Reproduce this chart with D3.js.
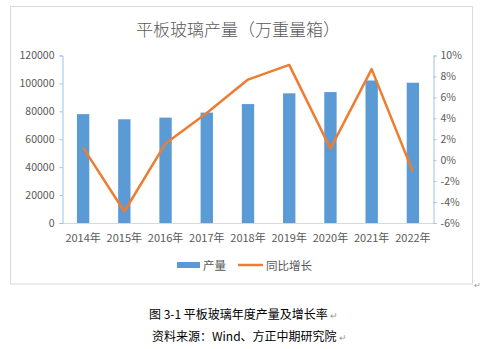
<!DOCTYPE html>
<html>
<head>
<meta charset="utf-8">
<script src="https://cdn.jsdelivr.net/npm/d3@7"></script>
<style>
  html, body { margin: 0; padding: 0; background: #fff; }
  svg { display: block; }
</style>
</head>
<body>
<svg id="chart" width="480" height="349"></svg>
<script>
// Flat glass output (10k weight boxes) and year-on-year growth
const years = ["2014年", "2015年", "2016年", "2017年", "2018年", "2019年", "2020年", "2021年", "2022年"];
const output = [78000, 74300, 75500, 79100, 85200, 92900, 93800, 102100, 100500];
const growth = [1.2, -4.9, 1.6, 4.5, 7.7, 9.1, 1.1, 8.7, -1.1];
const leftTicks = [0, 20000, 40000, 60000, 80000, 100000, 120000];
const rightTicks = [-6, -4, -2, 0, 2, 4, 6, 8, 10];

const svg = d3.select("#chart");
const font = "'Noto Sans CJK SC', 'Noto Sans', sans-serif";
const grey = "#595959";

// chart frame
svg.append("rect")
  .attr("x", 10.5).attr("y", 6.5).attr("width", 462).attr("height", 277.5)
  .attr("fill", "#fff").attr("stroke", "#d9d9d9").attr("stroke-width", 1);

// title
svg.append("text")
  .attr("x", 238).attr("y", 36)
  .attr("text-anchor", "middle")
  .attr("font-family", font).attr("font-size", 17).attr("font-weight", 300)
  .attr("fill", grey)
  .text("平板玻璃产量（万重量箱）");

const plot = { left: 62.5, right: 433.5, top: 55.5, bottom: 223 };

const x = d3.scaleBand().domain(years).range([plot.left, plot.right]).paddingInner(0.7).paddingOuter(0.35);
const xc = d => x(d) + x.bandwidth() / 2;
const yL = d3.scaleLinear().domain([0, 120000]).range([plot.bottom, plot.top]);
const yR = d3.scaleLinear().domain([-6, 10]).range([plot.bottom, plot.top]);

// bars
svg.append("g").selectAll("rect").data(years).join("rect")
  .attr("x", d => x(d))
  .attr("y", (d, i) => yL(output[i]))
  .attr("width", x.bandwidth())
  .attr("height", (d, i) => plot.bottom - yL(output[i]))
  .attr("fill", "#5b9bd5");

// baseline
svg.append("line")
  .attr("x1", plot.left).attr("x2", plot.right)
  .attr("y1", plot.bottom + 0.5).attr("y2", plot.bottom + 0.5)
  .attr("stroke", "#d9d9d9").attr("stroke-width", 1);

// left axis
const axL = svg.append("g").attr("transform", `translate(${plot.left},0)`)
  .call(d3.axisLeft(yL).tickValues(leftTicks).tickSize(3).tickPadding(5).tickFormat(d3.format("d")));
axL.select(".domain").attr("stroke", "#9dc3e6");
axL.selectAll(".tick line").attr("stroke", "#9dc3e6");
axL.selectAll("text").attr("font-family", font).attr("font-size", 10.5).attr("fill", grey);

// right axis
const axR = svg.append("g").attr("transform", `translate(${plot.right},0)`)
  .call(d3.axisRight(yR).tickValues(rightTicks).tickSize(3).tickPadding(4).tickFormat(d => d + "%"));
axR.select(".domain").attr("stroke", "#9dc3e6");
axR.selectAll(".tick line").attr("stroke", "#9dc3e6");
axR.selectAll("text").attr("font-family", font).attr("font-size", 10.5).attr("fill", grey);

// category labels
svg.append("g").selectAll("text").data(years).join("text")
  .attr("x", d => xc(d)).attr("y", 242)
  .attr("text-anchor", "middle")
  .attr("font-family", font).attr("font-size", 11).attr("fill", grey)
  .text(d => d);

// growth line
const line = d3.line().x((d, i) => xc(years[i])).y(d => yR(d));
svg.append("path")
  .datum(growth)
  .attr("d", line)
  .attr("fill", "none")
  .attr("stroke", "#ed7d31")
  .attr("stroke-width", 2.5)
  .attr("stroke-linejoin", "round");

// legend
const lg = svg.append("g");
lg.append("rect").attr("x", 177).attr("y", 262).attr("width", 23).attr("height", 6).attr("fill", "#5b9bd5");
lg.append("text").attr("x", 203).attr("y", 269.5)
  .attr("font-family", font).attr("font-size", 11.5).attr("fill", grey).text("产量");
lg.append("line").attr("x1", 238).attr("x2", 263).attr("y1", 265).attr("y2", 265)
  .attr("stroke", "#ed7d31").attr("stroke-width", 2.5);
lg.append("text").attr("x", 266).attr("y", 269.5)
  .attr("font-family", font).attr("font-size", 11.5).attr("fill", grey).text("同比增长");

// paragraph mark after the chart object
svg.append("text").attr("x", 474).attr("y", 288)
  .attr("font-family", font).attr("font-size", 8).attr("fill", "#999").text("↵");

// caption
const cap1 = svg.append("text").attr("x", 149).attr("y", 319)
  .attr("font-family", font).attr("font-size", 12).attr("font-weight", 400).attr("fill", "#000")
  .text("图 3-1 平板玻璃年度产量及增长率");
const cap2 = svg.append("text").attr("x", 152).attr("y", 341)
  .attr("font-family", font).attr("font-size", 12).attr("font-weight", 400).attr("fill", "#000")
  .text("资料来源：Wind、方正中期研究院");

// paragraph marks placed right after each caption line
[[cap1, 319], [cap2, 341]].forEach(([t, y]) => {
  const b = t.node().getBBox();
  svg.append("text").attr("x", b.x + b.width + 2).attr("y", y)
    .attr("font-family", font).attr("font-size", 9).attr("fill", "#999").text("↵");
});
</script>
</body>
</html>
